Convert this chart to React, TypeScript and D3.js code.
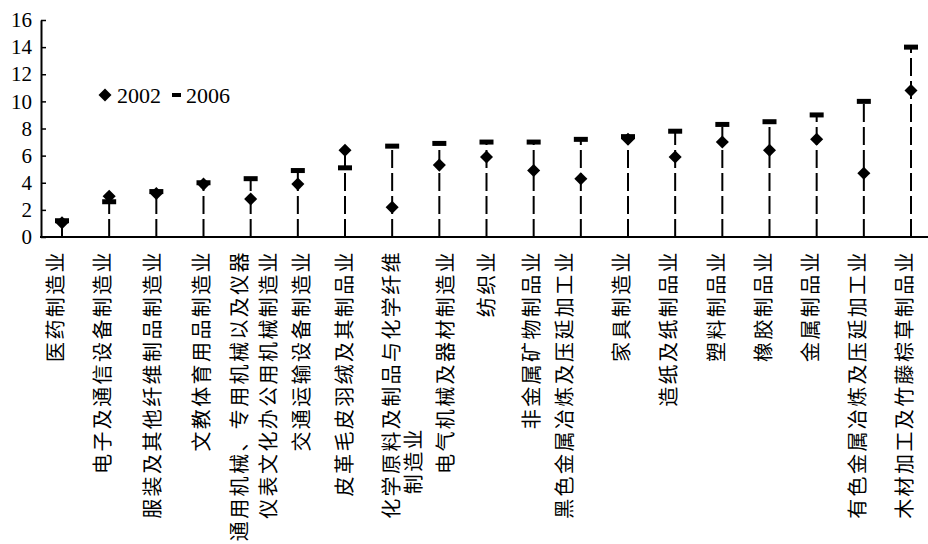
import React, { useEffect, useRef } from "react";
import * as d3 from "d3";

const WIDTH = 928;
const HEIGHT = 544;

// industry labels, one entry per line of text
const categories: string[][] = [
  ["医药制造业"],
  ["电子及通信设备制造业"],
  ["服装及其他纤维制品制造业"],
  ["文教体育用品制造业"],
  ["通用机械、专用机械以及仪器", "仪表文化办公用机械制造业"],
  ["交通运输设备制造业"],
  ["皮革毛皮羽绒及其制品业"],
  ["化学原料及制品与化学纤维", "制造业"],
  ["电气机械及器材制造业"],
  ["纺织业"],
  ["非金属矿物制品业"],
  ["黑色金属冶炼及压延加工业"],
  ["家具制造业"],
  ["造纸及纸制品业"],
  ["塑料制品业"],
  ["橡胶制品业"],
  ["金属制品业"],
  ["有色金属冶炼及压延加工业"],
  ["木材加工及竹藤棕草制品业"],
];

const values2002 = [1.05, 3.0, 3.2, 3.9, 2.8, 3.9, 6.4, 2.2, 5.3, 5.9, 4.9, 4.3, 7.2, 5.9, 7.0, 6.4, 7.2, 4.7, 10.8];
const values2006 = [1.2, 2.6, 3.35, 4.0, 4.3, 4.9, 5.1, 6.7, 6.9, 7.0, 7.0, 7.2, 7.4, 7.8, 8.3, 8.5, 9.0, 10.0, 14.0];

const yTicks = [0, 2, 4, 6, 8, 10, 12, 14, 16];

const serif = "'Liberation Serif', 'Times New Roman', serif";
const cjk = "'Noto Sans CJK SC', sans-serif";

// horizontal nudge of some label columns relative to their tick
const labelNudge: Record<number, number> = { 2: 2, 3: 4, 4: -5, 5: 10, 6: 6, 7: 6, 8: 12, 9: 6, 10: 4, 11: -10 };

const App: React.FC = () => {
  const ref = useRef<SVGSVGElement>(null);

  useEffect(() => {
    const container = ref.current;
    if (!container) return;

    const svg = d3.select(container);
    svg.selectAll("*").remove();

    const x = d3
      .scalePoint<number>()
      .domain(d3.range(categories.length))
      .range([62, 911]);

    const y = d3.scaleLinear().domain([0, 16]).range([237, 20]);

    // y axis
    const yAxis = d3
      .axisLeft(y)
      .tickValues(yTicks)
      .tickSize(-5)
      .tickPadding(9)
      .tickSizeOuter(0);

    const gy = svg
      .append("g")
      .attr("transform", "translate(41,0)")
      .call(yAxis);
    gy.select(".domain").attr("stroke-width", 2);
    gy.selectAll(".tick line").attr("stroke-width", 1.5);
    gy.selectAll(".tick text")
      .attr("font-family", serif)
      .attr("font-size", 21)
      .attr("fill", "#000");

    // x axis baseline
    svg
      .append("line")
      .attr("x1", 40)
      .attr("x2", WIDTH)
      .attr("y1", y(0))
      .attr("y2", y(0))
      .attr("stroke", "#000")
      .attr("stroke-width", 2);

    const idx = d3.range(categories.length);

    // drop lines
    svg
      .selectAll(".stem")
      .data(idx)
      .enter()
      .append("line")
      .attr("x1", (i) => x(i)!)
      .attr("x2", (i) => x(i)!)
      .attr("y1", y(0))
      .attr("y2", (i) => y(Math.max(values2002[i], values2006[i])))
      .attr("stroke", "#000")
      .attr("stroke-width", 2)
      .attr("stroke-dasharray", "18 5");

    // 2006 markers
    svg
      .selectAll(".m2006")
      .data(idx)
      .enter()
      .append("rect")
      .attr("x", (i) => x(i)! - 7)
      .attr("y", (i) => y(values2006[i]) - 2.5)
      .attr("width", 14)
      .attr("height", 5)
      .attr("fill", "#000");

    // 2002 markers
    const diamond = d3.symbol().type(d3.symbolSquare).size(85);
    svg
      .selectAll(".m2002")
      .data(idx)
      .enter()
      .append("path")
      .attr("d", diamond())
      .attr("transform", (i) => `translate(${x(i)},${y(values2002[i])}) rotate(45)`)
      .attr("fill", "#000");

    // category labels (vertical)
    const labels = svg
      .selectAll(".label")
      .data(idx)
      .enter()
      .append("g")
      .attr("transform", (i) => {
        const cx = x(i)! - 6 + (labelNudge[i] ?? 0);
        return `translate(${cx},250) rotate(-90)`;
      });

    labels.each(function (i) {
      const g = d3.select(this);
      categories[i].forEach((line, j) => {
        const shift = i === 7 && j === 1 ? 177 : 0;
        g.append("text")
          .attr("x", -shift)
          .attr("y", j * (i === 7 ? 22 : 29))
          .attr("dy", "0.36em")
          .attr("text-anchor", "end")
          .attr("font-family", cjk)
          .attr("font-size", 20)
          .attr("letter-spacing", 2.4)
          .attr("fill", "#000")
          .text(line);
      });
    });

    // legend
    const legend = svg.append("g").attr("transform", "translate(105,95)");
    legend
      .append("path")
      .attr("d", diamond())
      .attr("transform", "rotate(45)")
      .attr("fill", "#000");
    legend
      .append("text")
      .attr("x", 12)
      .attr("y", 8)
      .attr("font-family", serif)
      .attr("font-size", 22)
      .text("2002");
    legend
      .append("rect")
      .attr("x", 67)
      .attr("y", -2)
      .attr("width", 9)
      .attr("height", 4)
      .attr("fill", "#000");
    legend
      .append("text")
      .attr("x", 81)
      .attr("y", 8)
      .attr("font-family", serif)
      .attr("font-size", 22)
      .text("2006");
  }, [ref]);

  return (
    <div style={{ position: "absolute", left: 0, top: 0 }}>
      <svg ref={ref} width={WIDTH} height={HEIGHT} style={{ display: "block", background: "#fff" }} />
    </div>
  );
};

export default App;
